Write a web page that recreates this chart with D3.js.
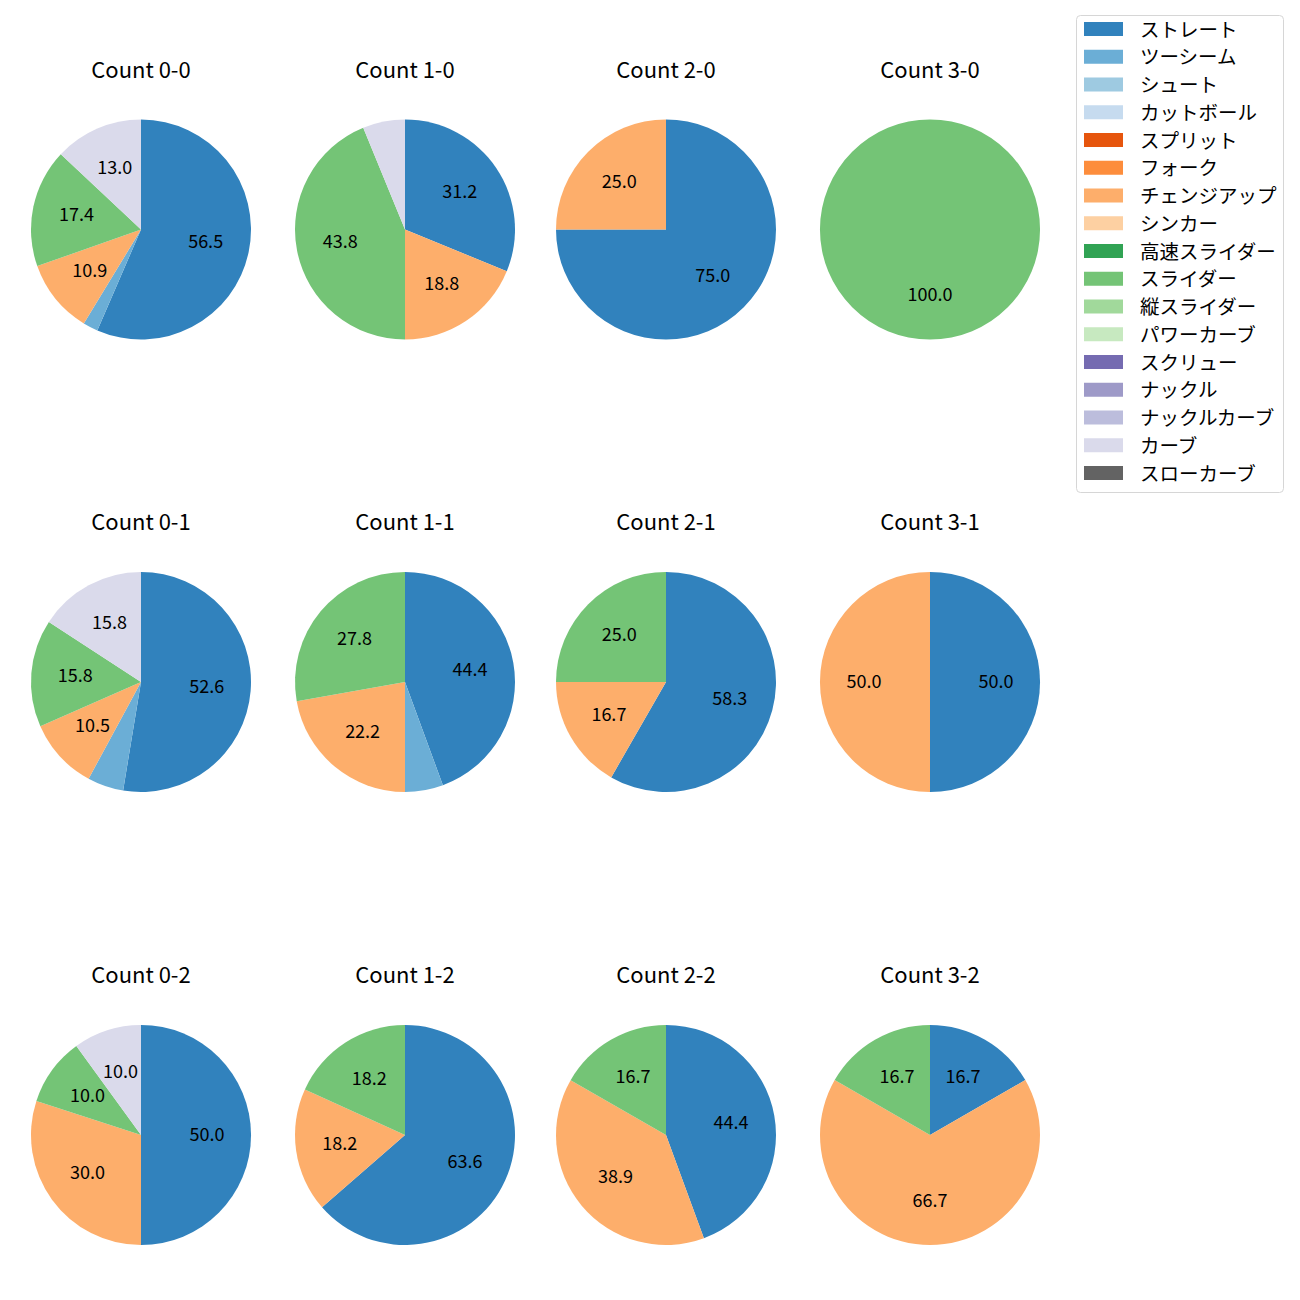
<!DOCTYPE html>
<html>
<head>
<meta charset="utf-8">
<script src="https://cdn.jsdelivr.net/npm/d3@7"></script>
<style>
  html, body { margin: 0; padding: 0; background: #fff; }
  svg { display: block; font-family: "Noto Sans CJK JP", "Noto Sans", sans-serif; }
</style>
</head>
<body>
<svg id="chart" width="1300" height="1300"></svg>
<script>
// Pitch types (legend order) and their colours
const pitchTypes = ["ストレート","ツーシーム","シュート","カットボール","スプリット","フォーク","チェンジアップ","シンカー","高速スライダー","スライダー","縦スライダー","パワーカーブ","スクリュー","ナックル","ナックルカーブ","カーブ","スローカーブ"];
const pitchColors = ["#3182bd","#6baed6","#9ecae1","#c6dbef","#e6550d","#fd8d3c","#fdae6b","#fdd0a2","#31a354","#74c476","#a1d99b","#c7e9c0","#756bb1","#9e9ac8","#bcbddc","#dadaeb","#636363"];

// Percent shares per count, in legend order (0 = not thrown)
//                 Str   2S  Sht Cut Spl Frk  Chg  Snk HSl  Sld  VSl PC Scr Kn KnC  Crv  SlC
const count00 = [56.5, 2.2, 0, 0, 0, 0, 10.9, 0, 0, 17.4, 0, 0, 0, 0, 0, 13.0, 0];
const count10 = [31.2, 0,   0, 0, 0, 0, 18.8, 0, 0, 43.8, 0, 0, 0, 0, 0, 6.2,  0];
const count20 = [75.0, 0,   0, 0, 0, 0, 25.0, 0, 0, 0,    0, 0, 0, 0, 0, 0,    0];
const count30 = [0,    0,   0, 0, 0, 0, 0,    0, 0, 100.0,0, 0, 0, 0, 0, 0,    0];
const count01 = [52.6, 5.3, 0, 0, 0, 0, 10.5, 0, 0, 15.8, 0, 0, 0, 0, 0, 15.8, 0];
const count11 = [44.4, 5.6, 0, 0, 0, 0, 22.2, 0, 0, 27.8, 0, 0, 0, 0, 0, 0,    0];
const count21 = [58.3, 0,   0, 0, 0, 0, 16.7, 0, 0, 25.0, 0, 0, 0, 0, 0, 0,    0];
const count31 = [50.0, 0,   0, 0, 0, 0, 50.0, 0, 0, 0,    0, 0, 0, 0, 0, 0,    0];
const count02 = [50.0, 0,   0, 0, 0, 0, 30.0, 0, 0, 10.0, 0, 0, 0, 0, 0, 10.0, 0];
const count12 = [63.6, 0,   0, 0, 0, 0, 18.2, 0, 0, 18.2, 0, 0, 0, 0, 0, 0,    0];
const count22 = [44.4, 0,   0, 0, 0, 0, 38.9, 0, 0, 16.7, 0, 0, 0, 0, 0, 0,    0];
const count32 = [16.7, 0,   0, 0, 0, 0, 66.7, 0, 0, 16.7, 0, 0, 0, 0, 0, 0,    0];

const countTitles = ["Count 0-0","Count 1-0","Count 2-0","Count 3-0",
                     "Count 0-1","Count 1-1","Count 2-1","Count 3-1",
                     "Count 0-2","Count 1-2","Count 2-2","Count 3-2"];
const countValues = [count00,count10,count20,count30,
                     count01,count11,count21,count31,
                     count02,count12,count22,count32];

// Layout
const colCenters = [141, 405, 666, 930];
const rowCenters = [229.5, 682, 1135];
const titleOffset = -162;
const radius = 110;
const labelThreshold = 10;

const svg = d3.select("#chart");
const color = d3.scaleOrdinal().domain(pitchTypes).range(pitchColors);
const pie = d3.pie().sort(null).value(d => d.v).startAngle(0).endAngle(2 * Math.PI);
const arc = d3.arc().innerRadius(0).outerRadius(radius);
const labelArc = d3.arc().innerRadius(radius * 0.6).outerRadius(radius * 0.6);

countValues.forEach((vals, i) => {
  const cx = colCenters[i % 4], cy = rowCenters[Math.floor(i / 4)];
  const g = svg.append("g").attr("transform", `translate(${cx},${cy})`);
  const data = pitchTypes.map((p, k) => ({ p, v: vals[k] })).filter(d => d.v > 0);
  const arcs = pie(data);
  g.selectAll("path").data(arcs).enter().append("path")
    .attr("d", arc)
    .attr("fill", d => color(d.data.p));
  g.selectAll("text.lbl").data(arcs.filter(d => d.data.v >= labelThreshold)).enter().append("text")
    .attr("class", "lbl")
    .attr("transform", d => {
      const c = labelArc.centroid(d);
      return `translate(${c[0]},${c[1] - 2.5})`;
    })
    .attr("text-anchor", "middle")
    .attr("dominant-baseline", "central")
    .attr("font-size", 18)
    .attr("fill", "#000")
    .text(d => d.data.v.toFixed(1));
  svg.append("text")
    .attr("x", cx).attr("y", cy + titleOffset)
    .attr("text-anchor", "middle")
    .attr("dominant-baseline", "central")
    .attr("font-size", 22)
    .attr("fill", "#000")
    .text(countTitles[i]);
});

// Legend
const legend = svg.append("g").attr("transform", "translate(1076,15)");
const legendStep = 27.75;
legend.append("rect")
  .attr("x", 0.5).attr("y", 0.5).attr("width", 207).attr("height", 477)
  .attr("rx", 4).attr("ry", 4)
  .attr("fill", "#fff").attr("stroke", "#d6d6d6").attr("stroke-width", 1);
pitchTypes.forEach((p, k) => {
  const y = 14 + k * legendStep;
  legend.append("rect")
    .attr("x", 8).attr("y", y - 7).attr("width", 39).attr("height", 14)
    .attr("fill", color(p));
  legend.append("text")
    .attr("x", 64).attr("y", y - 1)
    .attr("dominant-baseline", "central")
    .attr("font-size", 19.5)
    .attr("fill", "#000")
    .text(p);
});
</script>
</body>
</html>
